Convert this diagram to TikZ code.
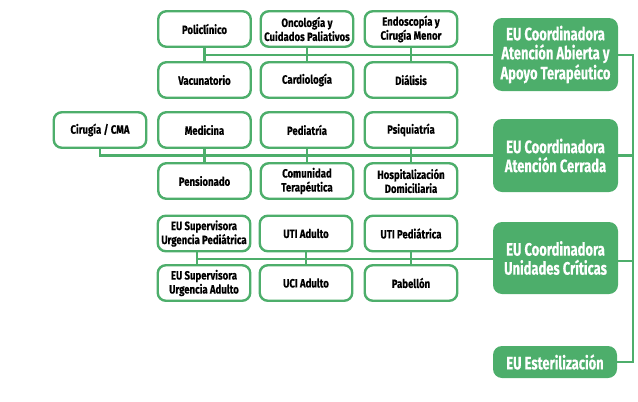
\documentclass[tikz,border=0pt]{standalone}
\usepackage{fontspec}
\setmainfont{Fira Sans}[FakeStretch=0.8, BoldFeatures={FakeBold=0.4}]
\newfontfamily\coordfont{Fira Sans}[FakeStretch=0.72, BoldFeatures={FakeBold=0.3}]
\definecolor{eugreen}{RGB}{77,174,107}
\begin{document}
\begin{tikzpicture}[x=1pt,y=-1pt,
  sbox/.style={draw=eugreen, line width=2.4pt, rounded corners=8pt, fill=white,
    minimum width=92.5pt, minimum height=35.5pt, inner sep=1pt, align=center,
    font=\fontsize{12}{14}\selectfont\bfseries, text=black},
  cbox/.style={fill=eugreen, rounded corners=9pt, minimum width=125pt, minimum height=73pt,
    inner sep=1pt, align=center, font=\coordfont\fontsize{18}{19}\selectfont\bfseries, text=white},
  conn/.style={draw=eugreen, line width=2.6pt}]
\useasboundingbox (0,0) rectangle (638,402);
% first group
\node[sbox] (pol) at (204.5,29) {Policlínico};
\node[sbox] (onc) at (307,29) {Oncología y\\Cuidados Paliativos};
\node[sbox] (end) at (411,29) {Endoscopía y\\Cirugía Menor};
\node[sbox] (vac) at (204.5,80) {Vacunatorio};
\node[sbox] (car) at (307,80) {Cardiología};
\node[sbox] (dia) at (411,80) {Diálisis};
% second group
\node[sbox] (cir) at (100,130) {Cirugía / CMA};
\node[sbox] (med) at (204.5,130) {Medicina};
\node[sbox] (ped) at (307,130) {Pediatría};
\node[sbox] (psi) at (411,130) {Psiquiatría};
\node[sbox] (pen) at (204.5,181) {Pensionado};
\node[sbox] (com) at (307,181) {Comunidad\\Terapéutica};
\node[sbox] (hos) at (411,181) {Hospitalización\\Domiciliaria};
% third group
\node[sbox] (eup) at (204,233.5) {EU Supervisora\\Urgencia Pediátrica};
\node[sbox] (uti) at (306,233.5) {UTI Adulto};
\node[sbox] (utp) at (411,233.5) {UTI Pediátrica};
\node[sbox] (eua) at (204,283) {EU Supervisora\\Urgencia Adulto};
\node[sbox] (uci) at (306,283) {UCI Adulto};
\node[sbox] (pab) at (411,283) {Pabellón};
% coordinators
\node[cbox] (c1) at (555.5,54.5) {EU Coordinadora\\Atención Abierta y\\Apoyo Terapéutico};
\node[cbox] (c2) at (555.5,155.5) {EU Coordinadora\\Atención Cerrada};
\node[cbox, minimum height=72pt] (c3) at (555.5,258) {EU Coordinadora\\Unidades Críticas};
\node[cbox, minimum height=32pt, minimum width=124pt] (c4) at (555,362) {EU Esterilización};
% bus coordinates
\coordinate (b1) at (204.5,55);
\coordinate (b2) at (100,155.5);
\coordinate (b3) at (197,259);
\coordinate (t1) at (633,55);
\coordinate (t4) at (633,362);
% group 1 connectors
\draw[conn] (pol.south) -- (vac.north);
\draw[conn] (onc.south) -- (car.north);
\draw[conn] (end.south) -- (dia.north);
\draw[conn] (b1) -- (b1 -| c1.west);
% group 2 connectors
\draw[conn] (cir.south) -- (b2) -- (b2 -| c2.west);
\draw[conn] (med.south) -- (pen.north);
\draw[conn] (ped.south) -- (com.north);
\draw[conn] (psi.south) -- (hos.north);
% group 3 connectors
\draw[conn] (eup.south -| b3) -- (eua.north -| b3);
\draw[conn] (uti.south) -- (uci.north);
\draw[conn] (utp.south) -- (pab.north);
\draw[conn] (b3) -- (b3 -| c3.west);
% trunk
\draw[conn] (c1.east |- t1) -- (t1) -- (t4) -- (c4.east |- t4);
\draw[conn] (c2.east) -- (c2.east -| t1);
\draw[conn] (c3.east |- 0,261) -- (t1 |- 0,261);
\end{tikzpicture}
\end{document}
